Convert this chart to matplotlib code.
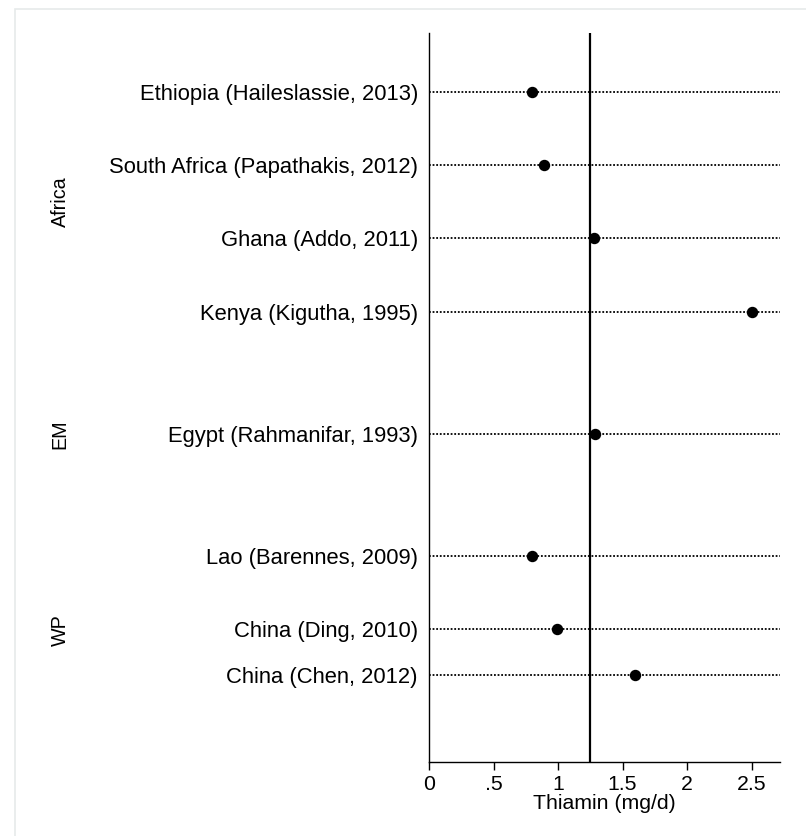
import matplotlib
matplotlib.use("Agg")
import matplotlib.pyplot as plt
from matplotlib.patches import Rectangle
from matplotlib.transforms import blended_transform_factory

# Thiamin intake by study, grouped by WHO region
studies = [
    "Ethiopia (Haileslassie, 2013)",
    "South Africa (Papathakis, 2012)",
    "Ghana (Addo, 2011)",
    "Kenya (Kigutha, 1995)",
    "Egypt (Rahmanifar, 1993)",
    "Lao (Barennes, 2009)",
    "China (Ding, 2010)",
    "China (Chen, 2012)",
]
thiamin = [0.80, 0.89, 1.28, 2.50, 1.29, 0.80, 0.99, 1.60]
regions = ["Africa", "EM", "WP"]
reference_value = 1.25
xticks = [0, 0.5, 1, 1.5, 2, 2.5]
xtick_labels = ["0", ".5", "1", "1.5", "2", "2.5"]

# Layout: vertical slot of each row and of each region label
row_pos = [91.7, 165.0, 238.3, 312.0, 434.0, 555.7, 629.0, 675.0]
region_pos = [202.0, 434.0, 630.0]

W, H = 806, 836
fig = plt.figure(figsize=(W / 100, H / 100), dpi=100)
fig.patch.set_facecolor("white")
fig.patches.append(Rectangle((15 / W, -0.1), 1.2, (H - 9) / H + 0.1,
                             transform=fig.transFigure, fill=False,
                             edgecolor="#e6eaea", linewidth=1.2))

left, right, top, bottom = 429, 780, 32.7, 762.3
ax = fig.add_axes([left / W, 1 - bottom / H, (right - left) / W, (bottom - top) / H])
ax.set_xlim(0, 2.72)
ax.set_ylim(bottom, top)

font = "Liberation Sans"
for y, v in zip(row_pos, thiamin):
    ax.plot([0, 2.72], [y, y], linestyle=(0, (1, 1)), color="black",
            linewidth=1.3, zorder=1)
    ax.plot([v], [y], marker="o", markersize=7.2, color="black",
            linestyle="none", zorder=3)

ax.axvline(reference_value, color="black", linewidth=1.6, zorder=2)

for s in ["top", "right"]:
    ax.spines[s].set_visible(False)
for s in ["left", "bottom"]:
    ax.spines[s].set_linewidth(1.0)
    ax.spines[s].set_color("black")

ax.set_yticks(row_pos)
ax.set_yticklabels(studies, fontsize=15.8, family=font)
ax.tick_params(axis="y", length=0, pad=8)

ax.set_xticks(xticks)
ax.set_xticklabels(xtick_labels, fontsize=15.3, family=font)
ax.tick_params(axis="x", length=6, width=1.0, pad=3)
ax.set_xlabel("Thiamin (mg/d)", fontsize=15.3, family=font, labelpad=0)

trans = blended_transform_factory(fig.transFigure, ax.transData)
for name, y in zip(regions, region_pos):
    fig.text(60 / W, y, name, rotation=90, ha="center", va="center",
             fontsize=14.2, family=font, transform=trans)

fig.savefig("out.png", dpi=100)
